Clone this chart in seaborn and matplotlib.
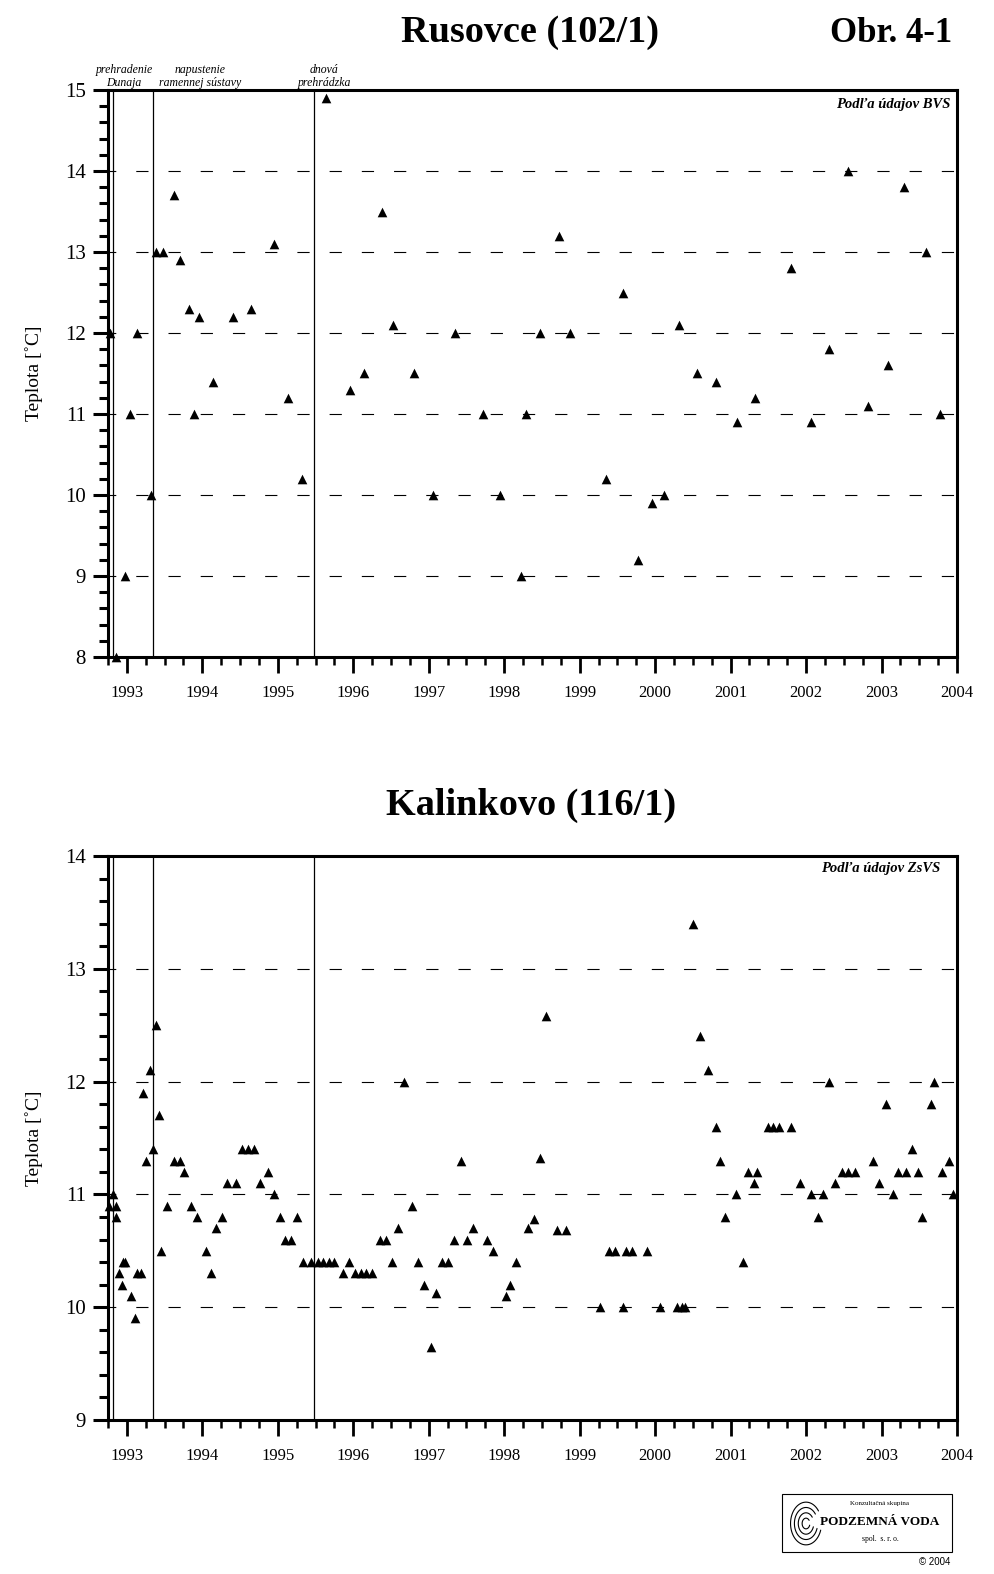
import matplotlib
matplotlib.use("Agg")
import numpy as np
import pandas as pd
import matplotlib.pyplot as plt
import matplotlib.patches as mpatches
from matplotlib.ticker import MultipleLocator
import seaborn as sns

# ---------------- data ----------------
rus_year = [1992.78, 1992.86, 1992.97, 1993.04, 1993.14, 1993.32, 1993.39, 1993.48, 1993.63, 1993.70,
            1993.82, 1993.89, 1993.96, 1994.14, 1994.41, 1994.64, 1994.95, 1995.14, 1995.32, 1995.64,
            1995.96, 1996.14, 1996.38, 1996.53, 1996.80, 1997.05, 1997.35, 1997.72, 1997.94, 1998.22,
            1998.29, 1998.47, 1998.72, 1998.87, 1999.35, 1999.57, 1999.77, 1999.96, 2000.12, 2000.31,
            2000.55, 2000.80, 2001.09, 2001.32, 2001.80, 2002.07, 2002.31, 2002.55, 2002.82, 2003.08,
            2003.30, 2003.59, 2003.77]
rus_temp = [12.0, 8.0, 9.0, 11.0, 12.0, 10.0, 13.0, 13.0, 13.7, 12.9,
            12.3, 11.0, 12.2, 11.4, 12.2, 12.3, 13.1, 11.2, 10.2, 14.9,
            11.3, 11.5, 13.5, 12.1, 11.5, 10.0, 12.0, 11.0, 10.0, 9.0,
            11.0, 12.0, 13.2, 12.0, 10.2, 12.5, 9.2, 9.9, 10.0, 12.1,
            11.5, 11.4, 10.9, 11.2, 12.8, 10.9, 11.8, 14.0, 11.1, 11.6,
            13.8, 13.0, 11.0]

kal_year = [1992.76, 1992.82, 1992.85, 1992.86, 1992.90, 1992.93, 1992.95, 1992.98, 1993.05, 1993.11,
            1993.14, 1993.19, 1993.22, 1993.26, 1993.30, 1993.34, 1993.38, 1993.42, 1993.45, 1993.53,
            1993.63, 1993.70, 1993.76, 1993.85, 1993.93, 1994.05, 1994.12, 1994.18, 1994.26, 1994.33,
            1994.44, 1994.52, 1994.60, 1994.68, 1994.76, 1994.87, 1994.95, 1995.03, 1995.10, 1995.18,
            1995.25, 1995.33, 1995.44, 1995.53, 1995.60, 1995.68, 1995.75, 1995.87, 1995.94, 1996.02,
            1996.10, 1996.17, 1996.25, 1996.36, 1996.44, 1996.51, 1996.59, 1996.67, 1996.78, 1996.86,
            1996.94, 1997.03, 1997.09, 1997.17, 1997.26, 1997.34, 1997.43, 1997.51, 1997.59, 1997.77,
            1997.85, 1998.02, 1998.08, 1998.16, 1998.31, 1998.39, 1998.47, 1998.55, 1998.70, 1998.82,
            1999.27, 1999.39, 1999.47, 1999.57, 1999.61, 1999.70, 1999.89, 2000.07, 2000.29, 2000.35,
            2000.40, 2000.50, 2000.60, 2000.70, 2000.80, 2000.86, 2000.92, 2001.07, 2001.16, 2001.23,
            2001.31, 2001.35, 2001.49, 2001.56, 2001.64, 2001.80, 2001.92, 2002.07, 2002.16, 2002.22,
            2002.30, 2002.39, 2002.47, 2002.56, 2002.65, 2002.89, 2002.97, 2003.06, 2003.15, 2003.22,
            2003.33, 2003.40, 2003.48, 2003.54, 2003.66, 2003.70, 2003.80, 2003.90, 2003.95]
kal_temp = [10.9, 11.0, 10.9, 10.8, 10.3, 10.2, 10.4, 10.4, 10.1, 9.9,
            10.3, 10.3, 11.9, 11.3, 12.1, 11.4, 12.5, 11.7, 10.5, 10.9,
            11.3, 11.3, 11.2, 10.9, 10.8, 10.5, 10.3, 10.7, 10.8, 11.1,
            11.1, 11.4, 11.4, 11.4, 11.1, 11.2, 11.0, 10.8, 10.6, 10.6,
            10.8, 10.4, 10.4, 10.4, 10.4, 10.4, 10.4, 10.3, 10.4, 10.3,
            10.3, 10.3, 10.3, 10.6, 10.6, 10.4, 10.7, 12.0, 10.9, 10.4,
            10.2, 9.65, 10.13, 10.4, 10.4, 10.6, 11.3, 10.6, 10.7, 10.6,
            10.5, 10.1, 10.2, 10.4, 10.7, 10.78, 11.32, 12.58, 10.68, 10.68,
            10.0, 10.5, 10.5, 10.0, 10.5, 10.5, 10.5, 10.0, 10.0, 10.0,
            10.0, 13.4, 12.4, 12.1, 11.6, 11.3, 10.8, 11.0, 10.4, 11.2,
            11.1, 11.2, 11.6, 11.6, 11.6, 11.6, 11.1, 11.0, 10.8, 11.0,
            12.0, 11.1, 11.2, 11.2, 11.2, 11.3, 11.1, 11.8, 11.0, 11.2,
            11.2, 11.4, 11.2, 10.8, 11.8, 12.0, 11.2, 11.3, 11.0]

event_year = [1992.82, 1993.34, 1995.48]
event_label = ["prehradenie\nDunaja", "napustenie\nramennej sústavy", "dnová\nprehrádzka"]
year_ticks = list(range(1993, 2005))
year_labels = [str(y) for y in year_ticks]

titles = ["Rusovce (102/1)", "Kalinkovo (116/1)"]
sources = ["Podľa údajov BVS", "Podľa údajov ZsVS"]
ylabel = "Teplota [˚C]"

rus = pd.DataFrame({"rok": rus_year, "teplota": rus_temp})
kal = pd.DataFrame({"rok": kal_year, "teplota": kal_temp})

# ---------------- style ----------------
sns.set_style("ticks")
plt.rcParams['font.family'] = ['Liberation Serif', 'DejaVu Serif']
plt.rcParams['axes.edgecolor'] = 'black'
plt.rcParams['xtick.color'] = 'black'
plt.rcParams['ytick.color'] = 'black'
plt.rcParams['text.color'] = 'black'
plt.rcParams['axes.labelcolor'] = 'black'
plt.rcParams['xtick.labelcolor'] = 'black'
plt.rcParams['ytick.labelcolor'] = 'black'

W, H = 995, 1574
fig = plt.figure(figsize=(W / 100, H / 100), dpi=100)


def rect(l, t, r, b):
    return [l / W, 1 - b / H, (r - l) / W, (b - t) / H]


def fx(x):
    return x / W


def fy(y):
    return 1 - y / H


ax1 = fig.add_axes(rect(108, 90, 957, 657))
ax2 = fig.add_axes(rect(108, 856, 957, 1420))


def style_axes(ax, df, ymin, ymax, source, src_x, src_y):
    ax.set_xlim(1992.75, 2004.0)
    ax.set_ylim(ymin, ymax)
    for yv in range(ymin + 1, ymax):
        ax.axhline(yv, color='black', lw=0.8, ls=(4, (11, 18)), zorder=1)
    for ev in event_year:
        ax.axvline(ev, color='black', lw=0.9, zorder=1)
    sns.scatterplot(data=df, x="rok", y="teplota", ax=ax, marker='^', color='black',
                    s=48, linewidth=0, zorder=3, clip_on=False, legend=False)
    ax.set_xticks(year_ticks)
    ax.set_xticklabels(year_labels)
    ax.xaxis.set_minor_locator(MultipleLocator(0.25))
    ax.yaxis.set_major_locator(MultipleLocator(1))
    ax.yaxis.set_minor_locator(MultipleLocator(0.2))
    for s in ax.spines.values():
        s.set_visible(True)
        s.set_linewidth(2.2)
        s.set_zorder(4)
    ax.tick_params(axis='x', which='major', length=11.5, width=2.0, labelsize=12, pad=9, direction='out')
    ax.tick_params(axis='x', which='minor', length=6, width=1.8, direction='out')
    ax.tick_params(axis='y', which='major', length=11, width=2.2, labelsize=15, pad=5, direction='out')
    ax.tick_params(axis='y', which='minor', length=6.5, width=2.2, direction='out')
    ax.set_xlabel("")
    ax.set_ylabel(ylabel, fontsize=14)
    ax.yaxis.set_label_coords(-0.076, 0.5)
    ax.text(src_x, src_y, source, transform=ax.transAxes, ha='right', va='top',
            fontsize=10.5, style='italic', weight='bold')


style_axes(ax1, rus, 8, 15, sources[0], 0.992, 0.986)
style_axes(ax2, kal, 9, 14, sources[1], 0.980, 0.990)

# titles
fig.text(fx(530), fy(32), titles[0], ha='center', va='center', fontsize=27.5, weight='bold')
fig.text(fx(891), fy(33), "Obr. 4-1", ha='center', va='center', fontsize=25, weight='bold')
fig.text(fx(531), fy(805), titles[1], ha='center', va='center', fontsize=27.5, weight='bold')

# event labels above top axes
for xc, lab in zip([124, 200, 324], event_label):
    fig.text(fx(xc), fy(89), lab, ha='center', va='bottom', fontsize=8.5, style='italic',
             linespacing=1.15)

# logo box
fig.patches.append(mpatches.Rectangle((fx(782), fy(1552)), (952 - 782) / W, (1552 - 1494) / H,
                                      transform=fig.transFigure, fill=False, lw=0.8, ec='black'))
fig.text(fx(880), fy(1503), "Konzultačná skupina", ha='center', va='center', fontsize=5)
fig.text(fx(880), fy(1522), "PODZEMNÁ VODA", ha='center', va='center', fontsize=9.5, weight='bold')
fig.text(fx(880), fy(1539), "spol.  s. r. o.", ha='center', va='center', fontsize=5.5)
fig.text(fx(950), fy(1562), "© 2004", ha='right', va='center', fontsize=7, family='Liberation Sans')

lax = fig.add_axes(rect(789, 1500, 823, 1547))
lax.set_xlim(-1.1, 1.1)
lax.set_ylim(-1.1, 1.1)
lax.axis('off')
for r in [0.25, 0.5, 0.75, 1.0]:
    t = np.linspace(0.2 * np.pi, 1.9 * np.pi, 60)
    lax.plot(r * np.cos(t), r * np.sin(t), color='black', lw=0.8)

fig.savefig("out.png", dpi=100)
